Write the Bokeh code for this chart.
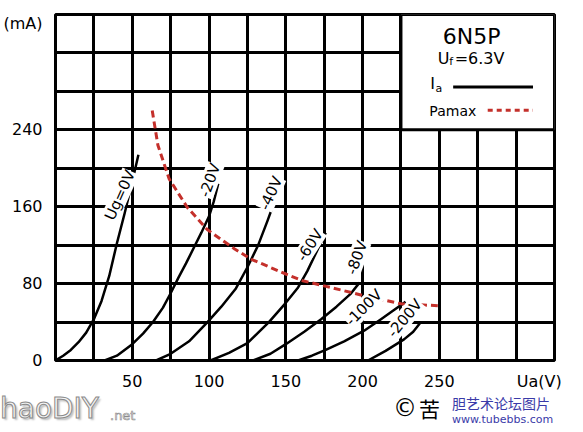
from bokeh.plotting import figure
from bokeh.layouts import column
from bokeh.models import Range1d, FixedTicker, Label, Div
from bokeh.embed import file_html
from bokeh.resources import INLINE

# ---- data ----
ua_g0 = [0, 5, 10, 15, 20, 25, 30, 35, 40, 45, 50, 54]
ia_g0 = [0, 5, 11, 19, 29, 43, 62, 88, 122, 153, 186, 214]

ua_g20 = [32, 40, 50, 57, 63.5, 70, 75, 80, 85, 90, 95, 100, 103, 106]
ia_g20 = [0, 5, 17, 28, 40, 55, 70, 86, 101, 117, 133, 150, 165, 184]

ua_g40 = [65.5, 75, 87, 99, 108, 117.5, 125, 132, 138, 143]
ia_g40 = [0, 7, 20, 40, 56, 75, 97, 120, 145, 167]

ua_g60 = [101, 113, 125, 139, 150, 158, 164, 170, 176]
ia_g60 = [0, 8, 18, 40, 60, 76, 93, 113, 133]

ua_g80 = [128.6, 140, 150, 162, 173, 183, 192, 198]
ia_g80 = [0, 7, 17, 30, 43, 56, 69, 81]

ua_g100 = [158, 167, 176, 188, 201, 212, 220, 228]
ia_g100 = [0, 5, 11, 20, 31, 43, 52, 61]

ua_g200 = [203.5, 215, 227, 233, 238]
ia_g200 = [0, 10, 22, 30, 40]

pamax_ua = [63, 66.7, 74, 86, 99, 116.7, 128, 150, 161, 192, 202, 225, 249]
pamax_ia = [260, 224, 189, 159, 136, 116, 105, 90, 83, 71, 67, 59, 57]

curve_names = ["Ug=0V", "-20V", "-40V", "-60V", "-80V", "-100V", "-200V"]
x_tick_values = [50, 100, 150, 200, 250]
y_tick_values = [0, 80, 160, 240]

FONT = "DejaVu Sans"
RED = "#c4302b"

p = figure(output_backend="svg", toolbar_location=None,
           x_range=Range1d(0, 325), y_range=Range1d(0, 360),
           min_border_left=50, min_border_right=18,
           min_border_top=14, min_border_bottom=24,
           frame_width=499, frame_height=346)
p.background_fill_color = "white"
p.border_fill_color = "white"
p.outline_line_color = "black"
p.outline_line_width = 3

# grid
p.xgrid.ticker = FixedTicker(ticks=[25 * i for i in range(14)])
p.ygrid.ticker = FixedTicker(ticks=[40 * i for i in range(10)])
for g in (p.xgrid, p.ygrid):
    g.grid_line_color = "black"
    g.grid_line_width = 3
    g.grid_line_alpha = 1.0

# axes
p.xaxis.ticker = FixedTicker(ticks=x_tick_values + [315])
p.xaxis.major_label_overrides = {315: "Ua(V)"}
p.yaxis.ticker = FixedTicker(ticks=y_tick_values + [351])
p.yaxis.major_label_overrides = {351: "(mA)"}
for ax in (p.xaxis, p.yaxis):
    ax.axis_line_color = None
    ax.major_tick_line_color = None
    ax.minor_tick_line_color = None
    ax.major_label_text_font = FONT
    ax.major_label_text_font_size = "16px"
    ax.major_label_text_color = "black"
p.xaxis.major_label_standoff = 5
p.yaxis.major_label_standoff = 7

# Ia curves
series = [(ua_g0, ia_g0), (ua_g20, ia_g20), (ua_g40, ia_g40), (ua_g60, ia_g60),
          (ua_g80, ia_g80), (ua_g100, ia_g100), (ua_g200, ia_g200)]
for xs, ys in series:
    p.line(xs, ys, line_color="black", line_width=2.5, line_join="round")

# Pamax
p.line(pamax_ua, pamax_ia, line_color=RED, line_width=3, line_dash="7 4")

# curve labels (position, angle in degrees)
label_layout = [(42, 172, 66), (100.6, 187.5, 70), (140.3, 174, 66), (165.7, 120, 57),
                (196.3, 107, 70), (200.8, 55, 45), (227.5, 44, 50)]
for name, (lx, ly, ang) in zip(curve_names, label_layout):
    p.add_layout(Label(x=lx, y=ly, text=name, angle=ang, angle_units="deg",
                       text_align="center", text_baseline="middle",
                       text_font=FONT, text_font_size="15px", text_color="black",
                       background_fill_color="white", background_fill_alpha=1.0))

# legend box (white box drawn over the grid)
p.quad(left=[225], right=[325], bottom=[240], top=[360],
       fill_color="white", fill_alpha=1.0, line_color="black", line_width=3)
p.line([259, 311], [284.5, 284.5], line_color="black", line_width=3)
p.line([281.5, 311], [260.5, 260.5], line_color=RED, line_width=3, line_dash="5 4")
p.add_layout(Label(x=271, y=337.5, text="6N5P", text_align="center", text_baseline="middle",
                   text_font=FONT, text_font_size="22px", text_color="black"))
p.add_layout(Label(x=249, y=314.6, text="U", text_align="left", text_baseline="middle",
                   text_font=FONT, text_font_size="16px", text_color="black"))
p.add_layout(Label(x=256.5, y=311, text="f", text_align="left", text_baseline="middle",
                   text_font=FONT, text_font_size="11px", text_color="black"))
p.add_layout(Label(x=260, y=314.6, text="=6.3V", text_align="left", text_baseline="middle",
                   text_font=FONT, text_font_size="16px", text_color="black"))
p.add_layout(Label(x=244, y=288, text="I", text_align="left", text_baseline="middle",
                   text_font=FONT, text_font_size="16px", text_color="black"))
p.add_layout(Label(x=247.5, y=283, text="a", text_align="left", text_baseline="middle",
                   text_font=FONT, text_font_size="11px", text_color="black"))
p.add_layout(Label(x=243.5, y=260, text="Pamax", text_align="left", text_baseline="middle",
                   text_font=FONT, text_font_size="14px", text_color="black"))

# watermark strip below the chart
wm_html = (
    "<div style='position:relative;width:567px;height:32px;"
    "font-family:\"DejaVu Sans\";line-height:1;'>"
    "<span style='position:absolute;left:0px;top:2px;font-size:28px;color:#f4f4f4;"
    "-webkit-text-stroke:1px #8a8a8a;text-shadow:2px 2px 2px #bbbbbb;'>haoDIY</span>"
    "<span style='position:absolute;left:110px;top:16px;font-size:13px;color:#f4f4f4;"
    "-webkit-text-stroke:0.6px #8a8a8a;'>.net</span>"
    "<span style='position:absolute;left:393px;top:3px;font-size:24px;color:#000;'>©</span>"
    "<span style='position:absolute;left:419px;top:5px;font-size:21px;color:#000;"
    "font-family:\"Noto Sans CJK SC\";'>苦</span>"
    "<span style='position:absolute;left:452px;top:3px;font-size:14px;color:#3a3aa8;"
    "font-family:\"Noto Sans CJK SC\";'>胆艺术论坛图片</span>"
    "<span style='position:absolute;left:452px;top:21px;font-size:11px;color:#3a3aa8;'>"
    "www.tubebbs.com</span>"
    "</div>"
)
w = Div(text=wm_html, width=567, height=32, margin=0)

open("out.html", "w").write(file_html(column(p, w, spacing=0), INLINE))
